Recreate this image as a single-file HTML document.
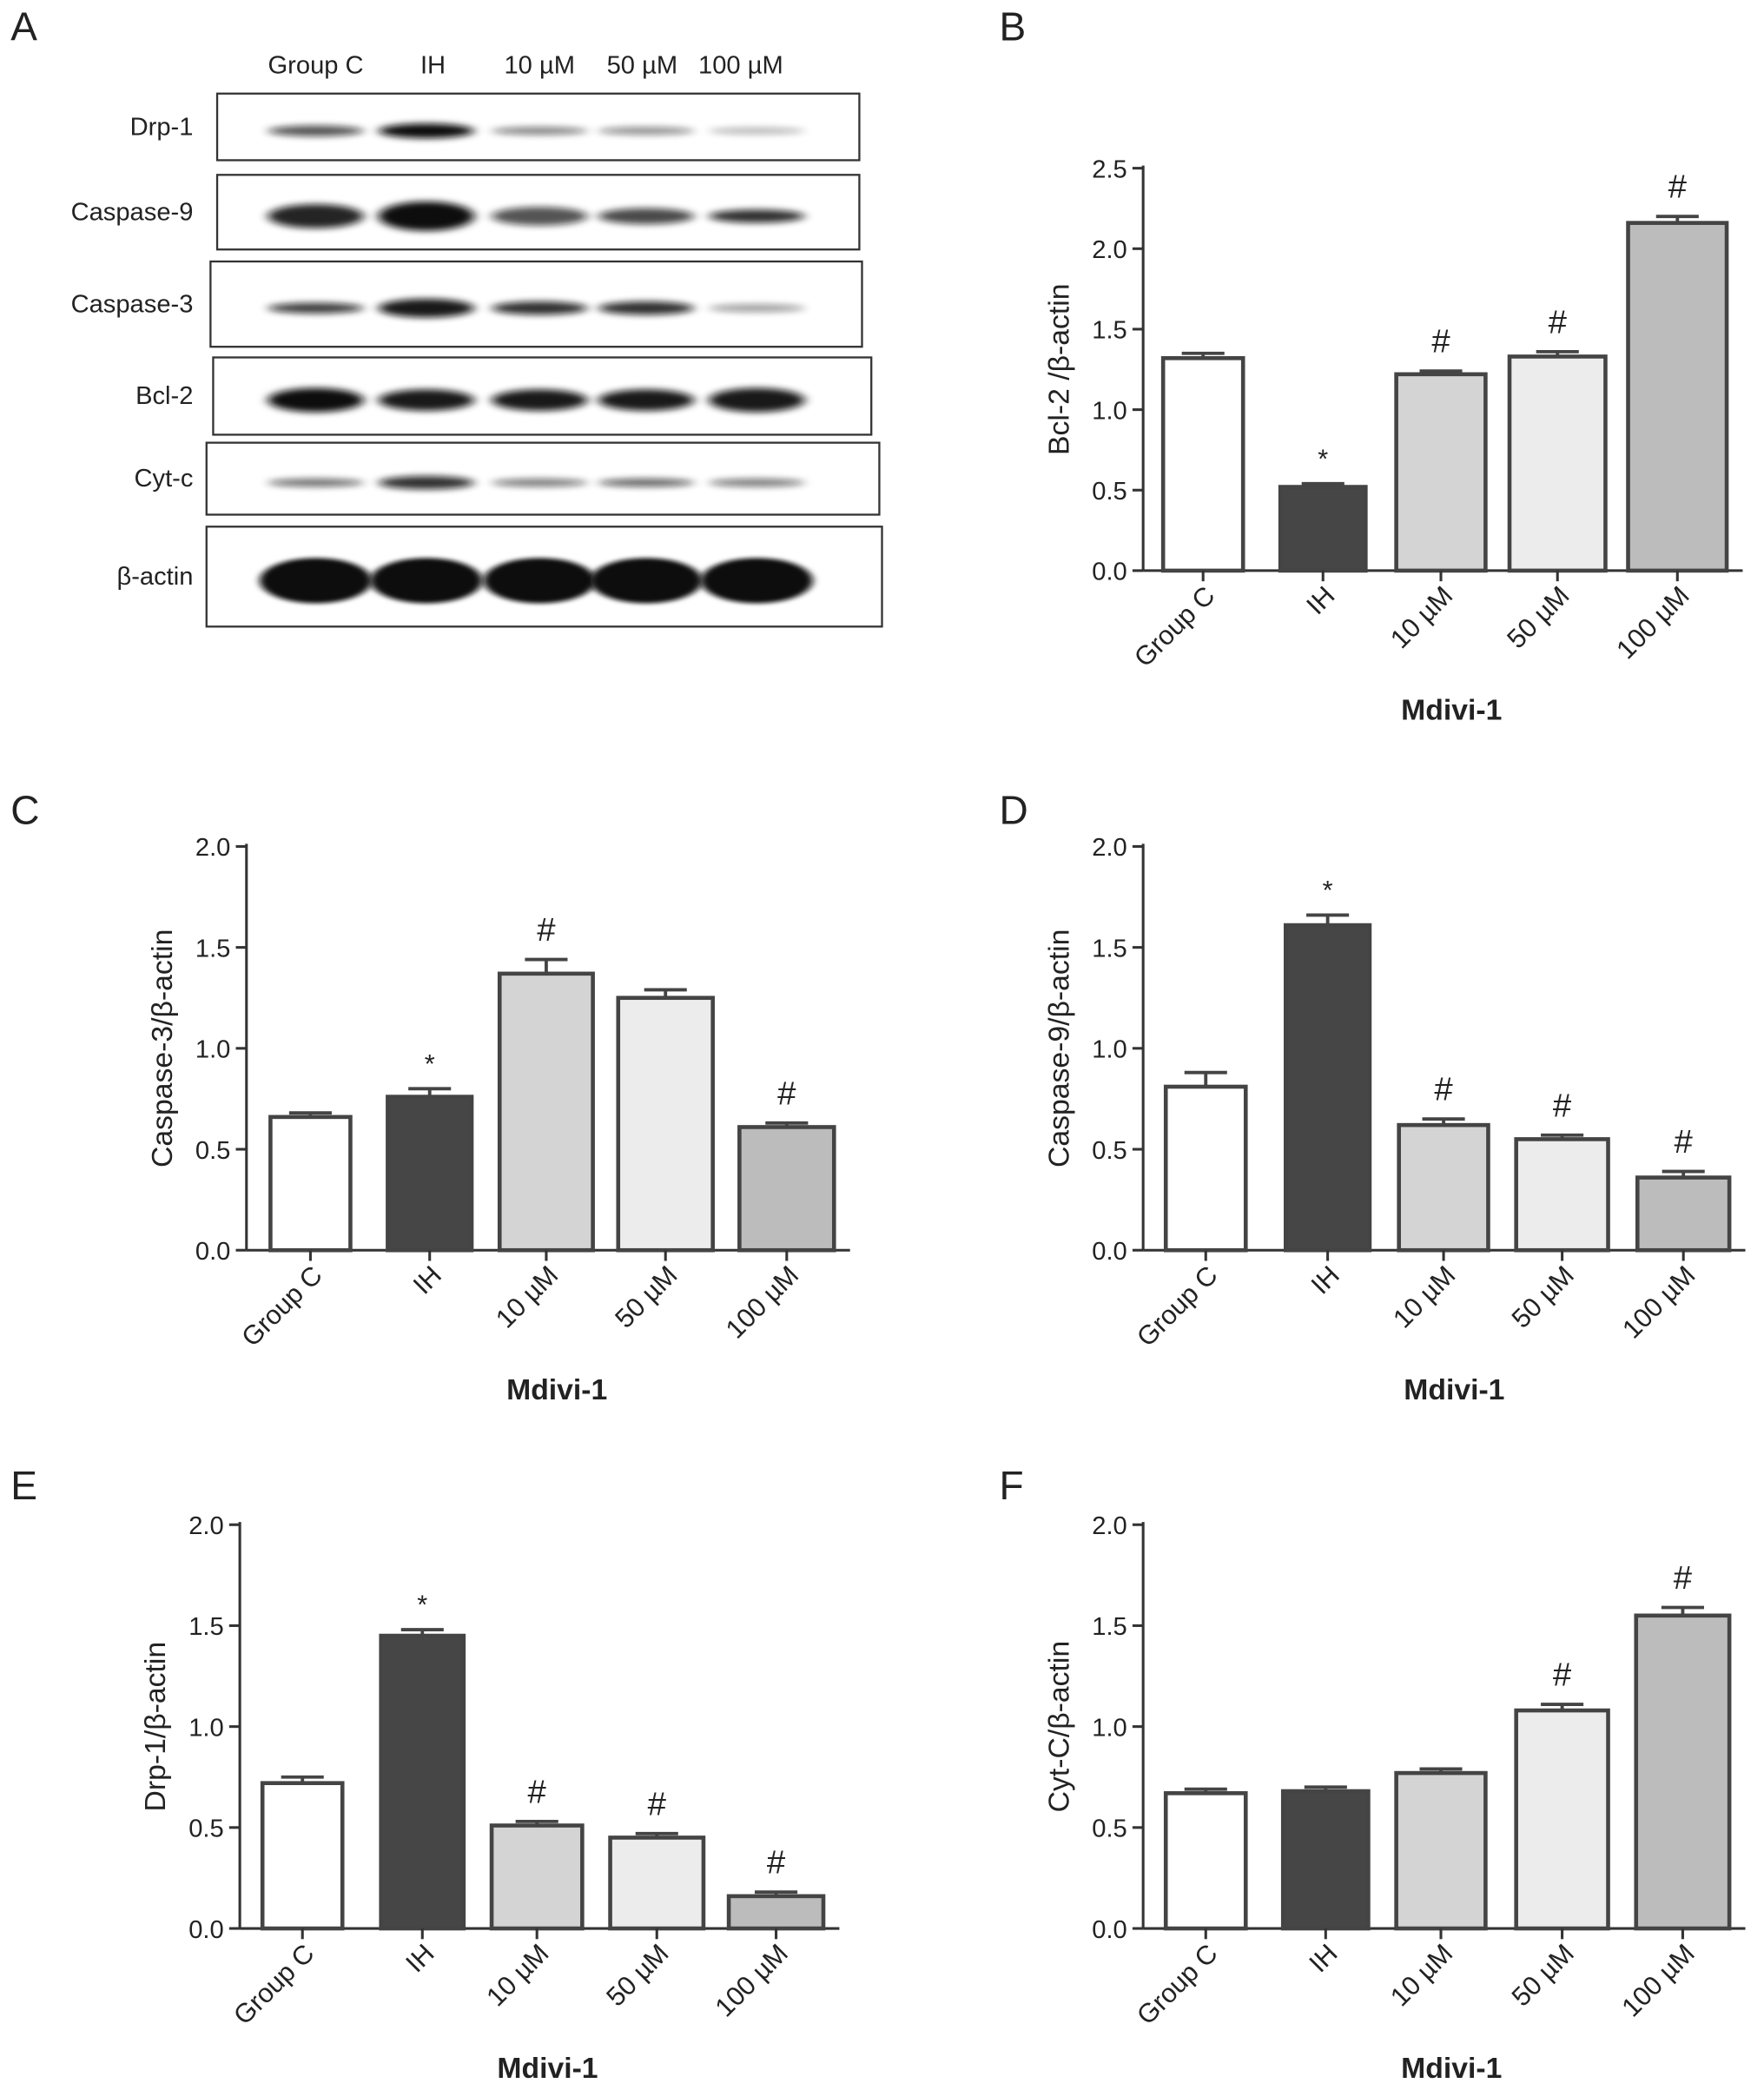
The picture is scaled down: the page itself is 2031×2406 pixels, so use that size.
<!DOCTYPE html>
<html><head><meta charset="utf-8"><style>html,body{margin:0;padding:0;background:#fff}svg{display:block}</style></head>
<body>
<svg id="s" xmlns="http://www.w3.org/2000/svg" width="2031" height="2406" viewBox="0 0 1324 1568" font-family="Liberation Sans, DejaVu Sans, sans-serif">
<defs>
<filter id="b1" x="-50%" y="-100%" width="200%" height="300%"><feGaussianBlur stdDeviation="4 2.5"/></filter>
<filter id="b2" x="-50%" y="-100%" width="200%" height="300%"><feGaussianBlur stdDeviation="3 1.5"/></filter>
</defs>
<g id="g"></g>
</svg>
<script>
var g=document.getElementById('g'),h='';
function T(x,y,t,sz,extra){h+='<text x="'+x+'" y="'+y+'" font-size="'+sz+'" fill="#222" '+(extra||'')+'>'+t+'</text>';}
[['A',8,30],['B',750,30],['C',8,618],['D',750,618],['E',8,1125],['F',750,1125]].forEach(function(p){T(p[1],p[2],p[0],30);});
[['Group C',237],['IH',325],['10 µM',405],['50 µM',482],['100 µM',556]].forEach(function(p){T(p[1],55,p[0],19,'text-anchor="middle"');});
var lanes=[237,320,405,485,568];
var rows=[['Drp-1',163,645,70,120,[[0.7,8],[1,11],[0.5,6],[0.45,6],[0.3,5]]],
['Caspase-9',163,645,131,187,[[0.9,18],[1,22],[0.7,14],[0.75,12],[0.85,10]]],
['Caspase-3',158,647,196,260,[[0.8,8],[0.95,14],[0.85,10],[0.85,10],[0.4,6]]],
['Bcl-2',160,654,268,326,[[1,18],[0.95,16],[0.95,16],[0.95,16],[0.95,18]]],
['Cyt-c',155,660,332,386,[[0.6,6],[0.85,10],[0.55,6],[0.65,6],[0.55,6]]],
['β-actin',155,662,395,470,[[1,34],[1,34],[1,34],[1,34],[1,34]]]];
rows.forEach(function(r){
 h+='<rect x="'+r[1]+'" y="'+r[3]+'" width="'+(r[2]-r[1])+'" height="'+(r[4]-r[3])+'" fill="#fff" stroke="#333" stroke-width="1.5"/>';
 T(145,(r[3]+r[4])/2+6,r[0],19,'text-anchor="end"');
 var cy=(r[3]+r[4])/2+3;
 r[5].forEach(function(b,i){
  var w=r[0]=='β-actin'?42:36;
  h+='<ellipse cx="'+lanes[i]+'" cy="'+cy+'" rx="'+w+'" ry="'+(b[1]/2)+'" fill="#111" opacity="'+b[0]+'" filter="url(#'+(r[0]=='β-actin'?'b2':'b1')+')"/>';
 });
});
var cols=['#fff','#464646','#d4d4d4','#ececec','#bcbcbc'];
var cats=['Group C','IH','10 µM','50 µM','100 µM'];
function chart(ax,y0,y2,max,step,bars,vals,errs,marks,ylab){
 var k=(y0-y2)/max;
 h+='<line x1="'+ax+'" y1="'+(y2-2)+'" x2="'+ax+'" y2="'+y0+'" stroke="#333" stroke-width="2"/>';
 h+='<line x1="'+ax+'" y1="'+y0+'" x2="'+(bars[4][1]+12)+'" y2="'+y0+'" stroke="#333" stroke-width="2"/>';
 for(var v=0;v<=max+1e-9;v+=step){var y=y0-v*k;
  h+='<line x1="'+(ax-8)+'" y1="'+y+'" x2="'+ax+'" y2="'+y+'" stroke="#333" stroke-width="2"/>';
  T(ax-12,y+7,v.toFixed(1),19,'text-anchor="end"');}
 T(0,0,ylab,22,'text-anchor="middle" transform="translate('+(ax-56)+','+((y0+y2)/2)+') rotate(-90)"');
 bars.forEach(function(b,i){var top=y0-vals[i]*k,cx=(b[0]+b[1])/2,et=top-errs[i]*k;
  h+='<line x1="'+cx+'" y1="'+top+'" x2="'+cx+'" y2="'+et+'" stroke="#444" stroke-width="2.5"/>';
  h+='<line x1="'+(cx-16)+'" y1="'+et+'" x2="'+(cx+16)+'" y2="'+et+'" stroke="#444" stroke-width="2.5"/>';
  h+='<rect x="'+b[0]+'" y="'+top+'" width="'+(b[1]-b[0])+'" height="'+(y0-top)+'" fill="'+cols[i]+'" stroke="#444" stroke-width="3"/>';
  h+='<line x1="'+cx+'" y1="'+y0+'" x2="'+cx+'" y2="'+(y0+8)+'" stroke="#333" stroke-width="2"/>';
  T(0,0,cats[i],20,'text-anchor="end" transform="translate('+(cx+10)+','+(y0+20)+') rotate(-45)"');
  if(marks[i]=='*')T(cx,et-12,'*',20,'text-anchor="middle"');
  else if(marks[i]=='#')T(cx,et-14,'#',25,'text-anchor="middle"');
 });
 T((bars[2][0]+bars[2][1])/2+8,y0+112,'Mdivi-1',22,'text-anchor="middle" font-weight="bold"');
}
chart(858,428,126,2.5,0.5,[[873,933],[961,1025],[1048,1115],[1133,1205],[1222,1296]],[1.32,0.52,1.22,1.33,2.16],[0.03,0.02,0.02,0.03,0.04],['','*','#','#','#'],'Bcl-2 /β-actin');
chart(185,938,635,2,0.5,[[203,263],[291,354],[375,445],[464,535],[555,626]],[0.66,0.76,1.37,1.25,0.61],[0.02,0.04,0.07,0.04,0.02],['','*','#','','#'],'Caspase-3/β-actin');
chart(858,938,635,2,0.5,[[875,935],[965,1028],[1050,1117],[1138,1207],[1229,1298]],[0.81,1.61,0.62,0.55,0.36],[0.07,0.05,0.03,0.02,0.03],['','*','#','#','#'],'Caspase-9/β-actin');
chart(180,1447,1144,2,0.5,[[197,257],[286,348],[369,437],[458,528],[547,618]],[0.72,1.45,0.51,0.45,0.16],[0.03,0.03,0.02,0.02,0.02],['','*','#','#','#'],'Drp-1/β-actin');
chart(858,1447,1144,2,0.5,[[875,935],[963,1027],[1048,1115],[1138,1207],[1228,1298]],[0.67,0.68,0.77,1.08,1.55],[0.02,0.02,0.02,0.03,0.04],['','','','#','#'],'Cyt-C/β-actin');
g.innerHTML=h;
</script>
</body></html>
